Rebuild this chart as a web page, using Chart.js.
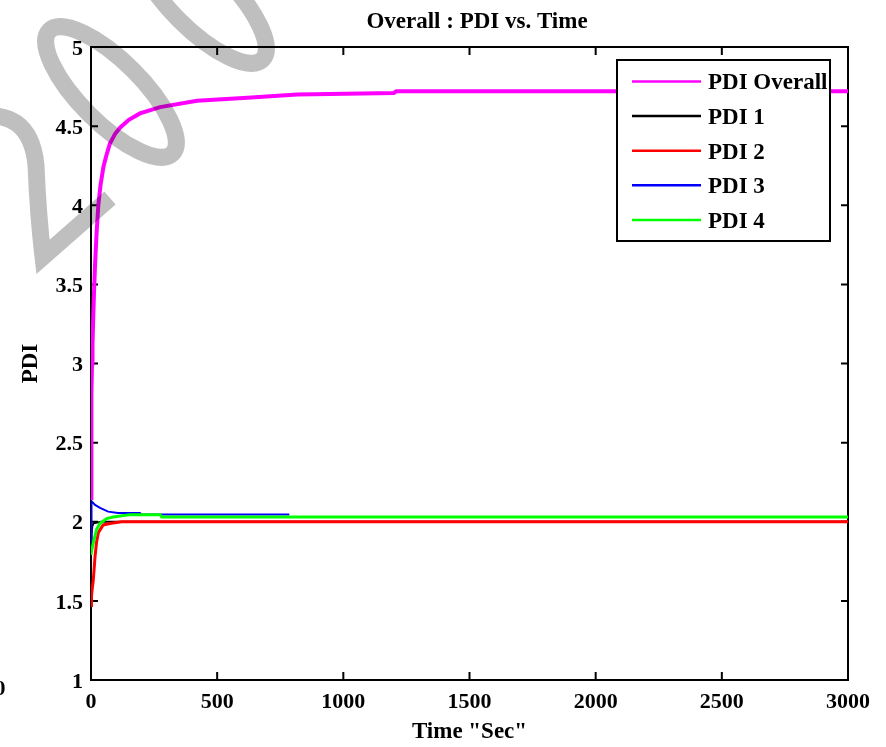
<!DOCTYPE html>
<html>
<head>
<meta charset="utf-8">
<title>Overall : PDI vs. Time</title>
<script src="https://cdn.jsdelivr.net/npm/chart.js@4.4.1/dist/chart.umd.min.js"></script>
<style>
  html, body { margin: 0; padding: 0; background: #fff; }
  #pdiChart { display: block; }
</style>
</head>
<body>
<canvas id="pdiChart" width="886" height="747"></canvas>
<script>
/* ================= DATA ================= */

const seriesNames = ["PDI Overall", "PDI 1", "PDI 2", "PDI 3", "PDI 4"];
const seriesColors = ["#ff00ff", "#000000", "#ff0000", "#0000ff", "#00ff00"];

const overallTime = [0, 1, 2, 4, 6, 9, 12, 16, 22, 29, 38, 49, 60, 75, 95, 115, 150, 194, 274, 420, 620, 817, 1200, 1210, 3000];
const overallPdi = [2.15, 2.55, 2.8, 3.0, 3.12, 3.3, 3.45, 3.62, 3.82, 4.0, 4.13, 4.24, 4.31, 4.39, 4.45, 4.49, 4.54, 4.58, 4.62, 4.66, 4.68, 4.70, 4.71, 4.72, 4.72];

const pdi1Time = [0, 2, 5, 10, 40, 3000];
const pdi1Values = [1.85, 1.92, 1.97, 1.99, 2.0, 2.0];

const pdi2Time = [0, 2, 5, 9, 16, 22, 29, 48, 80, 122, 3000];
const pdi2Values = [1.47, 1.53, 1.58, 1.63, 1.78, 1.87, 1.93, 1.98, 1.99, 2.0, 2.0];

const pdi3Time = [0, 2, 16, 36, 68, 107, 194, 200, 786];
const pdi3Values = [1.87, 2.13, 2.106, 2.087, 2.064, 2.055, 2.055, 2.046, 2.046];

const pdi4Time = [0, 4, 9, 16, 22, 36, 62, 88, 155, 274, 280, 3000];
const pdi4Values = [1.79, 1.83, 1.866, 1.91, 1.95, 1.99, 2.02, 2.03, 2.045, 2.045, 2.03, 2.03];

const xTicks = [0, 500, 1000, 1500, 2000, 2500, 3000];
const yTicks = [1, 1.5, 2, 2.5, 3, 3.5, 4, 4.5, 5];

/* ================= HELPERS ================= */

const SERIF = "'Liberation Serif', 'Times New Roman', serif";
const zip = (xs, ys) => xs.map((x, i) => ({ x: x, y: ys[i] }));
const plainNumber = v => String(v);

const seriesTimes = [overallTime, pdi1Time, pdi2Time, pdi3Time, pdi4Time];
const seriesValues = [overallPdi, pdi1Values, pdi2Values, pdi3Values, pdi4Values];
const lineWidths = [4, 2, 3, 2, 3];
const drawOrder = [0, 4, 3, 2, 1]; // green on top of blue, red over black

/* ================= FRAME, TICKS, LEGEND ================= */

const axesBox = {
  id: "axesBox",
  beforeDatasetsDraw(chart) {
    const { ctx, chartArea: a, scales: { x, y } } = chart;
    ctx.save();
    ctx.strokeStyle = "#000";
    ctx.lineWidth = 2;
    ctx.strokeRect(a.left, a.top, a.right - a.left, a.bottom - a.top);
    ctx.beginPath();
    x.ticks.forEach(t => {
      const px = x.getPixelForValue(t.value);
      ctx.moveTo(px, a.bottom); ctx.lineTo(px, a.bottom - 8);
      ctx.moveTo(px, a.top); ctx.lineTo(px, a.top + 8);
    });
    y.ticks.forEach(t => {
      const py = y.getPixelForValue(t.value);
      ctx.moveTo(a.left, py); ctx.lineTo(a.left + 7, py);
      ctx.moveTo(a.right, py); ctx.lineTo(a.right - 7, py);
    });
    ctx.stroke();
    ctx.restore();
  },
  afterDatasetsDraw(chart) {
    const { ctx } = chart;
    // legend box
    const bx = 617, by = 60, bw = 213, bh = 181;
    ctx.save();
    ctx.fillStyle = "#fff";
    ctx.fillRect(bx, by, bw, bh);
    ctx.font = "bold 23px " + SERIF;
    ctx.textBaseline = "middle";
    ctx.textAlign = "left";
    chart.data.datasets.forEach((ds, i) => {
      const ry = 81.5 + i * 34.6;
      ctx.strokeStyle = ds.borderColor;
      ctx.lineWidth = 2.5;
      ctx.beginPath();
      ctx.moveTo(632, ry);
      ctx.lineTo(701, ry);
      ctx.stroke();
      ctx.fillStyle = "#000";
      ctx.fillText(ds.label, 708, ry + 2);
    });
    ctx.strokeStyle = "#000";
    ctx.lineWidth = 2;
    ctx.strokeRect(bx, by, bw, bh);
    ctx.restore();
  },
  afterDraw(chart) {
    const { ctx } = chart;
    ctx.save();
    // title
    ctx.fillStyle = "#000";
    ctx.font = "bold 23px " + SERIF;
    ctx.textAlign = "center";
    ctx.textBaseline = "middle";
    ctx.fillText("Overall : PDI vs. Time", 477, 22);
    // stray tick label cut by the left edge
    ctx.font = "bold 22px " + SERIF;
    ctx.textAlign = "right";
    ctx.fillText("0", 5.5, 689);

    // grey watermark strokes
    ctx.strokeStyle = "rgba(0,0,0,0.25)";
    ctx.lineWidth = 17;
    ctx.lineJoin = "miter";
    ctx.beginPath();
    ctx.moveTo(-30, 118);
    ctx.quadraticCurveTo(30, 105, 36, 165);
    ctx.quadraticCurveTo(38, 215, 43, 257);
    ctx.lineTo(110, 198);
    ctx.stroke();
    ctx.beginPath();
    ctx.ellipse(111, 92, 87, 31, Math.PI / 4, 0, Math.PI * 2);
    ctx.stroke();
    ctx.beginPath();
    ctx.ellipse(201, -2, 87, 31, Math.PI / 4, 0, Math.PI * 2);
    ctx.stroke();
    ctx.restore();
  }
};

/* ================= CHART ================= */

Chart.defaults.font.family = SERIF;
Chart.defaults.font.weight = "bold";
Chart.defaults.color = "#000";

new Chart(document.getElementById("pdiChart"), {
  type: "line",
  data: {
    datasets: seriesNames.map((name, i) => ({
      label: name,
      data: zip(seriesTimes[i], seriesValues[i]),
      borderColor: seriesColors[i],
      backgroundColor: seriesColors[i],
      borderWidth: lineWidths[i],
      order: drawOrder[i],
      pointRadius: 0,
      tension: 0,
      fill: false
    }))
  },
  options: {
    responsive: false,
    animation: false,
    layout: { padding: { top: 47, right: 38, left: 0, bottom: 0 } },
    plugins: {
      legend: { display: false },
      tooltip: { enabled: false }
    },
    scales: {
      x: {
        type: "linear",
        min: xTicks[0],
        max: xTicks[xTicks.length - 1],
        afterBuildTicks: axis => { axis.ticks = xTicks.map(v => ({ value: v })); },
        afterFit: axis => { axis.height = 67; },
        grid: { display: false, drawTicks: false },
        border: { display: false },
        ticks: { font: { size: 22, weight: "bold" }, padding: 9, maxRotation: 0, callback: plainNumber },
        title: {
          display: true,
          text: 'Time "Sec"',
          font: { size: 23, weight: "bold" },
          padding: { top: 0, bottom: 1 }
        }
      },
      y: {
        type: "linear",
        min: yTicks[0],
        max: yTicks[yTicks.length - 1],
        afterBuildTicks: axis => { axis.ticks = yTicks.map(v => ({ value: v })); },
        afterFit: axis => { axis.width = 91; },
        grid: { display: false, drawTicks: false },
        border: { display: false },
        ticks: { font: { size: 22, weight: "bold" }, padding: 8, labelOffset: 2, callback: plainNumber },
        title: {
          display: true,
          text: "PDI",
          font: { size: 23, weight: "bold" },
          padding: { top: 17, bottom: 0 }
        }
      }
    }
  },
  plugins: [axesBox]
});
</script>
</body>
</html>
